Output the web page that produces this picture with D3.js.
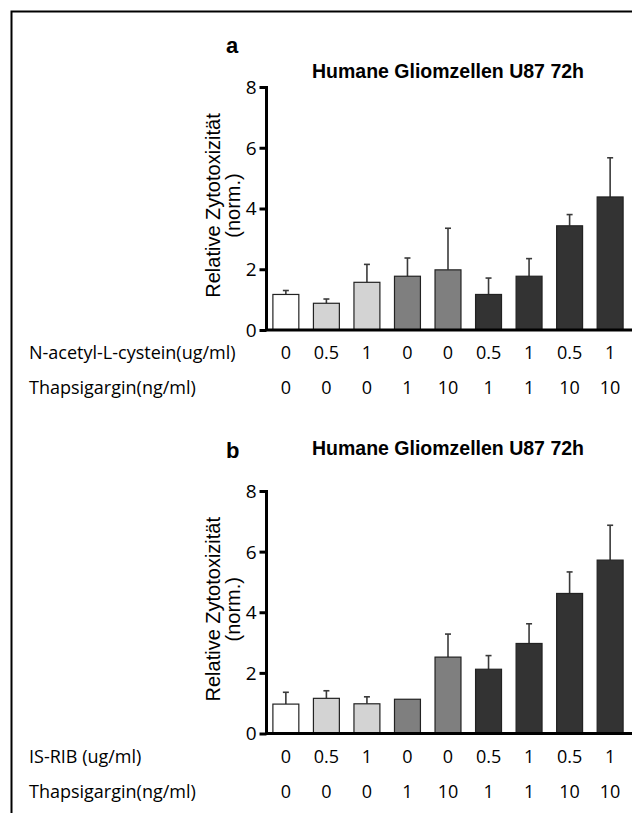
<!DOCTYPE html>
<meta charset="utf-8">
<script src="https://d3js.org/d3.v7.min.js"></script>
<style>
  body { margin: 0; background: #fff; }
  svg text { fill: #000; }
  .title { font-family: "Liberation Sans", Arial, sans-serif; font-weight: bold; font-size: 19.5px; }
  .panel { font-family: "Liberation Sans", Arial, sans-serif; font-weight: bold; font-size: 22px; }
  .ylab { font-family: "Liberation Sans", Arial, sans-serif; font-size: 20px; }
  .row { font-family: "Open Sans", Lato, sans-serif; font-size: 18px; }
</style>
<div id="chart"></div>
<script>
  // data
  var conditions = ["c1","c2","c3","c4","c5","c6","c7","c8","c9"];
  var nacDose    = ["0","0.5","1","0","0","0.5","1","0.5","1"];
  var isribDose  = ["0","0.5","1","0","0","0.5","1","0.5","1"];
  var thapsDose  = ["0","0","0","1","10","1","1","10","10"];

  var meanA = [1.17, 0.88, 1.57, 1.77, 1.98, 1.17, 1.77, 3.43, 4.38];
  var sdA   = [0.13, 0.14, 0.59, 0.60, 1.37, 0.54, 0.58, 0.37, 1.29];
  var meanB = [0.97, 1.16, 0.98, 1.13, 2.52, 2.12, 2.97, 4.62, 5.72];
  var sdB   = [0.39, 0.25, 0.23, 0.00, 0.76, 0.45, 0.65, 0.71, 1.15];

  var yTicks = [0, 2, 4, 6, 8];
  var barFill = ["#ffffff","#d3d3d3","#d3d3d3","#7f7f7f","#7f7f7f","#333333","#333333","#333333","#333333"];

  var W = 632, H = 813;
  var svg = d3.select("#chart").append("svg")
      .attr("width", W)
      .attr("height", H);

  // frame (only top and left edges are inside the picture)
  svg.append("path")
    .attr("d", "M11.5," + H + "V11.5H" + W)
    .attr("fill", "none")
    .attr("stroke", "#000")
    .attr("stroke-width", 2);

  var x = d3.scaleBand()
    .domain(conditions)
    .range([266, 630])
    .paddingInner(0.36)
    .paddingOuter(0.17);

  function panel(opt) {
    var y = d3.scaleLinear().domain([0, 8]).range([opt.bottom, opt.top]);
    var g = svg.append("g");

    g.append("text").attr("class", "panel")
      .attr("x", 226).attr("y", opt.letterY).text(opt.letter);

    g.append("text").attr("class", "title")
      .attr("x", 448).attr("y", opt.titleY)
      .attr("text-anchor", "middle")
      .text("Humane Gliomzellen U87 72h");

    // y label, two lines
    var cy = (opt.top + opt.bottom) / 2 - 3;
    g.append("text").attr("class", "ylab")
      .attr("transform", "translate(220," + cy + ") rotate(-90)")
      .attr("text-anchor", "middle")
      .text("Relative Zytotoxizität");
    g.append("text").attr("class", "ylab")
      .attr("transform", "translate(240," + cy + ") rotate(-90)")
      .attr("text-anchor", "middle")
      .text("(norm.)");

    // error bars (upper only), drawn under bars
    var eb = g.append("g").attr("stroke", "#3a3a3a").attr("stroke-width", 1.6);
    opt.mean.forEach(function(m, i) {
      if (opt.sd[i] <= 0) return;
      var cx = x(conditions[i]) + x.bandwidth() / 2;
      eb.append("line")
        .attr("x1", cx).attr("x2", cx)
        .attr("y1", y(m)).attr("y2", y(m + opt.sd[i]));
      eb.append("line")
        .attr("x1", cx - 3).attr("x2", cx + 3)
        .attr("y1", y(m + opt.sd[i])).attr("y2", y(m + opt.sd[i]));
    });

    g.selectAll("rect.bar")
      .data(opt.mean)
      .enter()
      .append("rect")
      .attr("class", "bar")
      .attr("x", (d, i) => x(conditions[i]))
      .attr("y", d => y(d))
      .attr("width", x.bandwidth())
      .attr("height", d => y(0) - y(d))
      .attr("fill", (d, i) => barFill[i])
      .attr("stroke", "#222")
      .attr("stroke-width", 1.2);

    // y axis
    var ax = g.append("g")
      .attr("transform", "translate(266.5,0)")
      .call(d3.axisLeft(y).tickValues(yTicks).tickSize(7).tickPadding(3).tickFormat(d3.format("d")));
    ax.select(".domain").attr("stroke-width", 3).attr("d", "M0," + (opt.top - 1) + "V" + opt.bottom);
    ax.selectAll(".tick line").attr("stroke-width", 3);
    ax.selectAll(".tick text")
      .style("font-family", "'Open Sans', Lato, sans-serif")
      .style("font-size", "19px")
      .attr("dy", "0.34em");

    // x axis baseline
    g.append("line")
      .attr("x1", 265).attr("x2", W)
      .attr("y1", y(0)).attr("y2", y(0))
      .attr("stroke", "#000").attr("stroke-width", 3);

    // condition rows
    opt.rows.forEach(function(r, k) {
      var by = opt.bottom + 29 + k * 35;
      g.append("text").attr("class", "row")
        .attr("x", 29).attr("y", by).text(r.label);
      g.selectAll("text.v" + k)
        .data(r.values)
        .enter()
        .append("text")
        .attr("class", "row v" + k)
        .attr("x", (d, i) => x(conditions[i]) + x.bandwidth() / 2)
        .attr("y", by)
        .attr("text-anchor", "middle")
        .text(d => d);
    });
  }

  panel({
    letter: "a", letterY: 53, titleY: 78, top: 87, bottom: 330,
    mean: meanA, sd: sdA,
    rows: [{label: "N-acetyl-L-cystein(ug/ml)", values: nacDose},
           {label: "Thapsigargin(ng/ml)", values: thapsDose}]
  });

  panel({
    letter: "b", letterY: 458, titleY: 455, top: 491, bottom: 733.5,
    mean: meanB, sd: sdB,
    rows: [{label: "IS-RIB (ug/ml)", values: isribDose},
           {label: "Thapsigargin(ng/ml)", values: thapsDose}]
  });
</script>
